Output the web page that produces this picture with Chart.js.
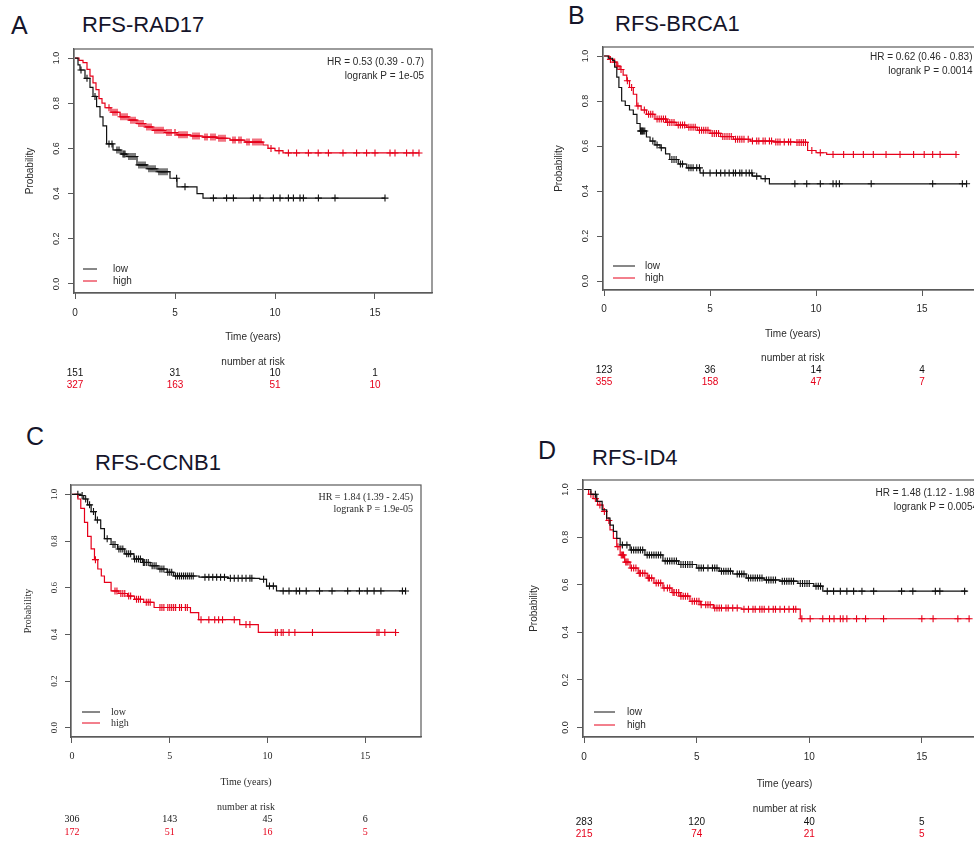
<!DOCTYPE html>
<html><head><meta charset="utf-8">
<script src="https://cdn.jsdelivr.net/npm/chart.js@4.4.1/dist/chart.umd.min.js"></script>
<style>
html,body{margin:0;padding:0;background:#fff;width:974px;height:846px;overflow:hidden;position:relative;}
canvas{position:absolute;}
.lbl{position:absolute;font-family:"Liberation Sans",Arial,sans-serif;color:#15152a;white-space:nowrap;line-height:1;}
</style></head><body>
<div class="lbl" style="left:11px;top:13px;font-size:25px">A</div>
<div class="lbl" style="left:82px;top:14px;font-size:22px">RFS-RAD17</div>
<div class="lbl" style="left:568px;top:3px;font-size:25px">B</div>
<div class="lbl" style="left:615px;top:13px;font-size:22px">RFS-BRCA1</div>
<div class="lbl" style="left:26px;top:424px;font-size:25px">C</div>
<div class="lbl" style="left:95px;top:452px;font-size:22px">RFS-CCNB1</div>
<div class="lbl" style="left:538px;top:438px;font-size:25px">D</div>
<div class="lbl" style="left:592px;top:447px;font-size:22px">RFS-ID4</div>
<canvas id="cA"></canvas><canvas id="cB"></canvas><canvas id="cC"></canvas><canvas id="cD"></canvas>
<script>
// ---------- shared ----------
const xTickValues = [0, 5, 10, 15];
const yTickValues = [0, 0.2, 0.4, 0.6, 0.8, 1.0];
const riskTimes = [0, 5, 10, 15];
const seriesNames = ['low', 'high'];

// ---------- Panel A : RFS-RAD17 ----------
const hrA = ['HR = 0.53 (0.39 - 0.7)', 'logrank P = 1e-05'];
const aLowT = [0, 0.15, 0.25, 0.5, 0.75, 0.9, 1.08, 1.25, 1.4, 1.58, 1.9, 2.3, 2.6, 3.1, 3.6, 4.1, 4.75, 5.1, 6.1, 6.4, 15.5];
const aLowS = [1, 0.97, 0.947, 0.91, 0.87, 0.83, 0.785, 0.74, 0.70, 0.62, 0.593, 0.575, 0.564, 0.527, 0.51, 0.497, 0.468, 0.43, 0.40, 0.38, 0.38];
const aHighT = [0, 0.2, 0.4, 0.6, 0.75, 0.9, 1.05, 1.2, 1.35, 1.5, 1.8, 2.25, 2.7, 3.1, 3.5, 3.9, 4.5, 5.1, 5.8, 6.4, 7.1, 7.75, 8.5, 9.4, 9.65, 10.0, 10.4, 17.2];
const aHighS = [1, 0.99, 0.98, 0.95, 0.92, 0.89, 0.86, 0.82, 0.80, 0.78, 0.76, 0.74, 0.725, 0.71, 0.695, 0.68, 0.67, 0.66, 0.655, 0.65, 0.645, 0.637, 0.628, 0.615, 0.60, 0.59, 0.58, 0.58];
const aLowCens = [[0.3,0.947],[0.6,0.91],[1.0,0.83],[1.7,0.62],[1.85,0.62],[2.1,0.593],[2.2,0.593],[2.4,0.575],[2.45,0.575],[2.5,0.575],[2.7,0.564],[2.8,0.564],[2.9,0.564],[3.0,0.564],[3.2,0.527],[3.3,0.527],[3.4,0.527],[3.5,0.527],[3.7,0.51],[3.8,0.51],[3.9,0.51],[4.0,0.51],[4.2,0.497],[4.3,0.497],[4.4,0.497],[4.5,0.497],[4.6,0.497],[5.08,0.468],[5.5,0.43],[6.92,0.38],[7.58,0.38],[7.92,0.38],[8.92,0.38],[9.25,0.38],[9.92,0.38],[10.25,0.38],[10.67,0.38],[10.92,0.38],[11.25,0.38],[11.42,0.38],[12.17,0.38],[13.0,0.38],[15.5,0.38]];
const aHighCens = [[1.7,0.78],[1.9,0.76],[2.0,0.76],[2.1,0.76],[2.3,0.74],[2.4,0.74],[2.5,0.74],[2.6,0.74],[2.8,0.725],[2.9,0.725],[3.0,0.725],[3.2,0.71],[3.3,0.71],[3.4,0.71],[3.6,0.695],[3.7,0.695],[3.8,0.695],[4.0,0.68],[4.1,0.68],[4.2,0.68],[4.3,0.68],[4.4,0.68],[4.6,0.67],[4.7,0.67],[4.8,0.67],[5.0,0.67],[5.2,0.66],[5.3,0.66],[5.4,0.66],[5.5,0.66],[5.6,0.66],[5.9,0.655],[6.0,0.655],[6.1,0.655],[6.2,0.655],[6.5,0.65],[6.6,0.65],[6.8,0.65],[6.9,0.65],[7.0,0.65],[7.2,0.645],[7.3,0.645],[7.4,0.645],[7.5,0.645],[7.9,0.637],[8.0,0.637],[8.2,0.637],[8.3,0.637],[8.6,0.628],[8.7,0.628],[8.9,0.628],[9.0,0.628],[9.1,0.628],[9.2,0.628],[9.3,0.628],[9.8,0.60],[10.2,0.59],[10.67,0.58],[11.08,0.58],[11.67,0.58],[12.16,0.58],[12.67,0.58],[13.4,0.58],[14.08,0.58],[14.58,0.58],[15.0,0.58],[15.75,0.58],[16.0,0.58],[16.58,0.58],[16.9,0.58],[17.2,0.58]];
const aRiskLow = [151, 31, 10, 1];
const aRiskHigh = [327, 163, 51, 10];

// ---------- Panel B : RFS-BRCA1 ----------
const hrB = ['HR = 0.62 (0.46 - 0.83)', 'logrank P = 0.0014'];
const bLowT = [0, 0.2, 0.4, 0.5, 0.6, 0.7, 0.83, 1.0, 1.2, 1.38, 1.55, 1.7, 2.0, 2.17, 2.4, 2.64, 2.9, 3.1, 3.5, 3.9, 4.53, 7.0, 7.4, 7.8, 17.1];
const bLowS = [1, 0.99, 0.98, 0.95, 0.906, 0.86, 0.80, 0.78, 0.76, 0.741, 0.70, 0.667, 0.64, 0.622, 0.605, 0.592, 0.565, 0.54, 0.52, 0.503, 0.48, 0.466, 0.455, 0.432, 0.432];
const bHighT = [0, 0.25, 0.43, 0.6, 0.75, 0.9, 1.07, 1.2, 1.38, 1.54, 1.75, 2.0, 2.4, 2.96, 3.4, 3.9, 4.4, 5.0, 5.5, 6.1, 6.9, 8.0, 9.0, 9.6, 10.0, 10.5, 16.6];
const bHighS = [1, 0.985, 0.973, 0.955, 0.94, 0.915, 0.89, 0.86, 0.83, 0.778, 0.76, 0.741, 0.72, 0.705, 0.693, 0.683, 0.67, 0.656, 0.642, 0.63, 0.622, 0.618, 0.616, 0.58, 0.57, 0.5625, 0.5625];
const bLowCens = [[1.72,0.667],[1.75,0.667],[1.78,0.667],[1.82,0.667],[1.85,0.667],[1.92,0.667],[2.3,0.622],[2.5,0.605],[2.7,0.592],[3.2,0.54],[3.3,0.54],[3.4,0.54],[3.6,0.52],[3.7,0.52],[4.0,0.503],[4.1,0.503],[4.2,0.503],[4.37,0.503],[4.5,0.503],[4.68,0.48],[5.0,0.48],[5.3,0.48],[5.5,0.48],[5.7,0.48],[5.9,0.48],[6.1,0.48],[6.2,0.48],[6.4,0.48],[6.5,0.48],[6.7,0.48],[6.85,0.48],[6.97,0.48],[7.2,0.466],[7.6,0.455],[9.0,0.432],[9.56,0.432],[10.2,0.432],[10.8,0.432],[10.95,0.432],[11.1,0.432],[12.6,0.432],[15.5,0.432],[16.9,0.432],[17.1,0.432]];
const bHighCens = [[0.3,0.985],[0.5,0.973],[0.65,0.955],[0.8,0.94],[1.1,0.89],[1.3,0.86],[1.6,0.778],[1.9,0.76],[2.1,0.741],[2.2,0.741],[2.3,0.741],[2.5,0.72],[2.6,0.72],[2.7,0.72],[2.8,0.72],[2.9,0.72],[3.0,0.705],[3.1,0.705],[3.2,0.705],[3.3,0.705],[3.5,0.693],[3.6,0.693],[3.7,0.693],[3.8,0.693],[4.0,0.683],[4.1,0.683],[4.2,0.683],[4.3,0.683],[4.5,0.67],[4.6,0.67],[4.7,0.67],[4.8,0.67],[4.9,0.67],[5.1,0.656],[5.2,0.656],[5.3,0.656],[5.4,0.656],[5.6,0.642],[5.7,0.642],[5.8,0.642],[5.9,0.642],[6.0,0.642],[6.2,0.63],[6.3,0.63],[6.4,0.63],[6.5,0.63],[6.6,0.63],[6.8,0.63],[7.0,0.622],[7.2,0.622],[7.3,0.622],[7.5,0.622],[7.6,0.622],[7.8,0.622],[7.9,0.622],[8.1,0.618],[8.2,0.618],[8.3,0.618],[8.5,0.618],[8.7,0.618],[8.8,0.618],[9.1,0.616],[9.2,0.616],[9.3,0.616],[9.4,0.616],[9.5,0.616],[9.8,0.58],[10.2,0.57],[10.8,0.5625],[11.3,0.5625],[11.76,0.5625],[12.23,0.5625],[12.7,0.5625],[13.3,0.5625],[13.96,0.5625],[14.6,0.5625],[15.1,0.5625],[15.5,0.5625],[15.85,0.5625],[16.6,0.5625]];
const bRiskLow = [123, 36, 14, 4];
const bRiskHigh = [355, 158, 47, 7];

// ---------- Panel C : RFS-CCNB1 ----------
const hrC = ['HR = 1.84 (1.39 - 2.45)', 'logrank P = 1.9e-05'];
const cLowT = [0, 0.46, 0.6, 0.8, 0.98, 1.2, 1.47, 1.66, 2.0, 2.33, 2.7, 3.17, 3.6, 4.0, 4.4, 4.87, 5.2, 6.5, 8.0, 9.6, 9.95, 10.46, 17.06];
const cLowS = [1, 0.995, 0.98, 0.955, 0.926, 0.89, 0.853, 0.81, 0.785, 0.766, 0.745, 0.723, 0.708, 0.694, 0.68, 0.666, 0.65, 0.645, 0.64, 0.636, 0.607, 0.586, 0.586];
const cHighT = [0, 0.3, 0.45, 0.64, 0.8, 0.98, 1.15, 1.32, 1.5, 1.66, 2.0, 2.4, 2.84, 3.2, 3.67, 4.2, 6.06, 6.48, 8.58, 9.53, 16.55];
const cHighS = [1, 0.98, 0.94, 0.88, 0.82, 0.766, 0.72, 0.68, 0.65, 0.623, 0.586, 0.575, 0.564, 0.55, 0.537, 0.515, 0.493, 0.463, 0.442, 0.408, 0.408];
const cLowCens = [[0.3,1],[0.52,0.995],[0.7,0.98],[0.9,0.955],[1.1,0.926],[1.3,0.89],[1.8,0.81],[2.1,0.785],[2.2,0.785],[2.4,0.766],[2.5,0.766],[2.6,0.766],[2.8,0.745],[2.9,0.745],[3.0,0.745],[3.2,0.723],[3.3,0.723],[3.4,0.723],[3.5,0.723],[3.65,0.708],[3.7,0.708],[3.8,0.708],[3.9,0.708],[4.1,0.694],[4.2,0.694],[4.3,0.694],[4.5,0.68],[4.6,0.68],[4.7,0.68],[4.9,0.666],[5.0,0.666],[5.1,0.666],[5.3,0.65],[5.4,0.65],[5.5,0.65],[5.6,0.65],[5.7,0.65],[5.8,0.65],[5.9,0.65],[6.0,0.65],[6.1,0.65],[6.2,0.65],[6.8,0.645],[7.0,0.645],[7.2,0.645],[7.4,0.645],[7.6,0.645],[7.8,0.645],[8.1,0.64],[8.3,0.64],[8.5,0.64],[8.7,0.64],[8.9,0.64],[9.1,0.64],[9.2,0.64],[9.8,0.636],[10.1,0.607],[10.3,0.607],[10.8,0.586],[11.1,0.586],[11.47,0.586],[11.64,0.586],[11.98,0.586],[12.66,0.586],[13.3,0.586],[14.1,0.586],[14.7,0.586],[15.1,0.586],[15.45,0.586],[15.8,0.586],[16.9,0.586],[17.06,0.586]];
const cHighCens = [[1.2,0.72],[2.2,0.586],[2.3,0.586],[2.5,0.575],[2.6,0.575],[2.7,0.575],[2.9,0.564],[3.0,0.564],[3.3,0.55],[3.4,0.55],[3.5,0.55],[3.8,0.537],[3.9,0.537],[4.0,0.537],[4.5,0.515],[4.6,0.515],[4.7,0.515],[4.9,0.515],[5.0,0.515],[5.1,0.515],[5.2,0.515],[5.3,0.515],[5.5,0.515],[5.6,0.515],[5.8,0.515],[5.9,0.515],[6.6,0.463],[7.0,0.463],[7.3,0.463],[7.5,0.463],[7.7,0.463],[8.3,0.463],[8.9,0.442],[9.1,0.442],[10.4,0.408],[10.5,0.408],[10.7,0.408],[10.8,0.408],[11.1,0.408],[11.4,0.408],[12.3,0.408],[15.6,0.408],[15.7,0.408],[16.0,0.408],[16.55,0.408]];
const cRiskLow = [306, 143, 45, 6];
const cRiskHigh = [172, 51, 16, 5];

// ---------- Panel D : RFS-ID4 ----------
const hrD = ['HR = 1.48 (1.12 - 1.98)', 'logrank P = 0.0054'];
const dLowT = [0, 0.3, 0.56, 0.8, 1.0, 1.15, 1.3, 1.45, 1.6, 2.04, 2.7, 3.5, 4.2, 5.0, 6.0, 6.6, 7.2, 8.0, 8.7, 9.5, 10.2, 10.6, 17.0];
const dLowS = [1, 0.98, 0.95, 0.915, 0.88, 0.85, 0.824, 0.795, 0.767, 0.746, 0.725, 0.70, 0.685, 0.67, 0.657, 0.645, 0.628, 0.62, 0.615, 0.605, 0.594, 0.573, 0.573];
const dHighT = [0, 0.2, 0.4, 0.6, 0.84, 1.0, 1.15, 1.3, 1.45, 1.6, 1.8, 2.04, 2.4, 2.8, 3.1, 3.5, 3.9, 4.27, 4.7, 5.16, 5.74, 7.0, 9.6, 17.15];
const dHighS = [1, 0.98, 0.962, 0.935, 0.908, 0.87, 0.83, 0.795, 0.76, 0.725, 0.695, 0.67, 0.648, 0.628, 0.607, 0.586, 0.567, 0.552, 0.53, 0.516, 0.502, 0.497, 0.457, 0.457];
const dLowCens = [[0.5,0.98],[1.7,0.767],[1.9,0.767],[2.1,0.746],[2.2,0.746],[2.3,0.746],[2.4,0.746],[2.5,0.746],[2.6,0.746],[2.8,0.725],[2.9,0.725],[3.0,0.725],[3.1,0.725],[3.2,0.725],[3.3,0.725],[3.4,0.725],[3.6,0.70],[3.7,0.70],[3.8,0.70],[3.9,0.70],[4.0,0.70],[4.1,0.70],[4.3,0.685],[4.4,0.685],[4.5,0.685],[4.6,0.685],[4.7,0.685],[4.8,0.685],[5.1,0.67],[5.2,0.67],[5.3,0.67],[5.5,0.67],[5.7,0.67],[5.8,0.67],[5.9,0.67],[6.1,0.657],[6.2,0.657],[6.3,0.657],[6.4,0.657],[6.5,0.657],[6.8,0.645],[6.9,0.645],[7.0,0.645],[7.1,0.645],[7.3,0.628],[7.4,0.628],[7.5,0.628],[7.6,0.628],[7.7,0.628],[7.8,0.628],[7.9,0.628],[8.1,0.62],[8.2,0.62],[8.3,0.62],[8.4,0.62],[8.5,0.62],[8.8,0.615],[8.9,0.615],[9.0,0.615],[9.1,0.615],[9.2,0.615],[9.3,0.615],[9.6,0.605],[9.7,0.605],[9.8,0.605],[9.9,0.605],[10.0,0.605],[10.3,0.594],[10.4,0.594],[10.5,0.594],[10.8,0.573],[11.08,0.573],[11.38,0.573],[11.67,0.573],[11.97,0.573],[12.34,0.573],[12.86,0.573],[14.1,0.573],[14.6,0.573],[15.6,0.573],[15.8,0.573],[16.9,0.573]];
const dHighCens = [[0.3,0.98],[0.5,0.962],[0.7,0.935],[0.9,0.908],[1.1,0.87],[1.5,0.76],[1.65,0.725],[1.7,0.725],[1.75,0.725],[1.85,0.695],[1.9,0.695],[1.95,0.695],[2.1,0.67],[2.2,0.67],[2.3,0.67],[2.45,0.648],[2.5,0.648],[2.6,0.648],[2.7,0.648],[2.85,0.628],[2.9,0.628],[3.0,0.628],[3.2,0.607],[3.3,0.607],[3.4,0.607],[3.55,0.586],[3.7,0.586],[3.8,0.586],[3.95,0.567],[4.0,0.567],[4.1,0.567],[4.2,0.567],[4.3,0.552],[4.4,0.552],[4.5,0.552],[4.6,0.552],[4.8,0.53],[4.9,0.53],[5.0,0.53],[5.1,0.53],[5.2,0.516],[5.4,0.516],[5.5,0.516],[5.6,0.516],[5.8,0.502],[5.9,0.502],[6.0,0.502],[6.1,0.502],[6.3,0.502],[6.4,0.502],[6.6,0.502],[6.8,0.502],[7.1,0.497],[7.3,0.497],[7.5,0.497],[7.6,0.497],[7.8,0.497],[7.9,0.497],[8.0,0.497],[8.2,0.497],[8.4,0.497],[8.5,0.497],[8.7,0.497],[8.9,0.497],[9.1,0.497],[9.3,0.497],[9.4,0.497],[9.67,0.457],[10.04,0.457],[10.6,0.457],[10.9,0.457],[11.1,0.457],[11.38,0.457],[11.5,0.457],[11.67,0.457],[12.1,0.457],[12.5,0.457],[13.3,0.457],[15.0,0.457],[15.5,0.457],[16.6,0.457],[17.1,0.457]];
const dRiskLow = [283, 120, 40, 5];
const dRiskHigh = [215, 74, 21, 5];

// ---------- drawing ----------
const RED = '#e6001a', BLACK = '#111111', AXIS = '#5a5a5a', TXT = '#2a2a2a';

function pts(ts, ss) { return ts.map((t, i) => ({ x: t, y: ss[i] })); }
function cens(arr) { return arr.map(p => ({ x: p[0], y: p[1] })); }

function buildPanel(id, g, d) {
  const cv = document.getElementById(id);
  cv.width = g.w; cv.height = g.h;
  cv.style.left = g.left + 'px'; cv.style.top = g.top + 'px';
  cv.style.width = g.w + 'px'; cv.style.height = g.h + 'px';
  const ytx = g.yTitleX - 6;
  const xbot = g.xTitleY + 6;
  const fam = g.family;
  const kmPlugin = {
    id: 'km' + id,
    afterDraw(chart) {
      const { ctx, chartArea: a, scales: { x } } = chart;
      ctx.save();
      ctx.strokeStyle = AXIS; ctx.lineWidth = 1.2;
      ctx.strokeRect(a.left, a.top, a.right - a.left, a.bottom - a.top);
      ctx.font = g.hrSize + 'px ' + fam;
      ctx.fillStyle = TXT; ctx.textAlign = 'right'; ctx.textBaseline = 'middle';
      ctx.fillText(d.hr[0], a.right - g.hrDx, a.top + g.hrDy[0]);
      ctx.fillText(d.hr[1], a.right - g.hrDx, a.top + g.hrDy[1]);
      ctx.font = '10px ' + fam; ctx.textAlign = 'left';
      [BLACK, RED].forEach((c, i) => {
        const yy = a.bottom - g.lgDy[i];
        ctx.strokeStyle = c; ctx.lineWidth = 1;
        ctx.beginPath(); ctx.moveTo(a.left + g.lgX0, yy); ctx.lineTo(a.left + g.lgX1, yy); ctx.stroke();
        ctx.fillStyle = TXT; ctx.fillText(seriesNames[i], a.left + g.lgTx, yy);
      });
      ctx.textAlign = 'center';
      ctx.fillStyle = TXT;
      ctx.fillText('number at risk', (a.left + a.right) / 2, a.bottom + g.riskDy[0]);
      riskTimes.forEach((t, i) => {
        const px = x.getPixelForValue(t);
        ctx.fillStyle = BLACK; ctx.fillText(String(d.riskLow[i]), px, a.bottom + g.riskDy[1]);
        ctx.fillStyle = RED; ctx.fillText(String(d.riskHigh[i]), px, a.bottom + g.riskDy[2]);
      });
      ctx.restore();
    }
  };
  return new Chart(cv, {
    type: 'scatter',
    data: {
      datasets: [
        { label: 'low', data: pts(d.lowT, d.lowS), showLine: true, stepped: true, borderColor: BLACK, borderWidth: 1.2, pointRadius: 0 },
        { label: 'high', data: pts(d.highT, d.highS), showLine: true, stepped: true, borderColor: RED, borderWidth: 1.2, pointRadius: 0 },
        { label: 'low censored', data: cens(d.lowCens), showLine: false, pointStyle: 'cross', pointRadius: 3.5, borderColor: BLACK, borderWidth: 1.1 },
        { label: 'high censored', data: cens(d.highCens), showLine: false, pointStyle: 'cross', pointRadius: 3.5, borderColor: RED, borderWidth: 1.1 }
      ]
    },
    options: {
      responsive: false, animation: false, devicePixelRatio: 1,
      layout: { padding: { left: ytx, top: g.T, right: g.w - g.R, bottom: g.h - xbot } },
      plugins: { legend: { display: false }, tooltip: { enabled: false } },
      scales: {
        x: {
          type: 'linear', min: -0.05, max: 17.85,
          afterBuildTicks: s => { s.ticks = xTickValues.map(v => ({ value: v })); },
          afterFit: s => { s.height = xbot - g.B; },
          ticks: { autoSkip: false, maxRotation: 0, padding: g.xTickPad, color: TXT, font: { size: 10, family: fam }, callback: v => String(v) },
          grid: { drawOnChartArea: false, drawTicks: true, tickLength: 6, color: AXIS, lineWidth: 1 },
          border: { display: true, color: AXIS, width: 1.2 },
          title: { display: true, text: 'Time (years)', color: TXT, font: { size: 10, family: fam }, padding: 0 }
        },
        y: {
          type: 'linear', min: -0.04, max: 1.04,
          afterBuildTicks: s => { s.ticks = yTickValues.map(v => ({ value: v })); },
          afterFit: s => { s.width = g.L - ytx; },
          ticks: { autoSkip: false, minRotation: 90, maxRotation: 90, crossAlign: 'center', padding: g.yTickPad, color: TXT, font: { size: 9, family: fam }, callback: v => Number(v).toFixed(1) },
          grid: { drawOnChartArea: false, drawTicks: true, tickLength: 6, color: AXIS, lineWidth: 1 },
          border: { display: true, color: AXIS, width: 1.2 },
          title: { display: true, text: 'Probability', color: TXT, font: { size: 10, family: fam }, padding: 0 }
        }
      }
    },
    plugins: [kmPlugin]
  });
}

const SANS = '"Liberation Sans", Arial, sans-serif';
const SERIF = '"Liberation Serif", "Times New Roman", serif';

buildPanel('cA', { left: 0, top: 0, w: 487, h: 400, L: 74, T: 49, R: 432, B: 293, yTitleX: 30, xTitleY: 337, family: SANS, hrSize: 10, hrDx: 8, hrDy: [13, 27], lgX0: 9, lgX1: 23, lgTx: 39, lgDy: [24, 12], riskDy: [69, 80, 92], xTickPad: 8, yTickPad: 5 },
  { hr: hrA, lowT: aLowT, lowS: aLowS, highT: aHighT, highS: aHighS, lowCens: aLowCens, highCens: aHighCens, riskLow: aRiskLow, riskHigh: aRiskHigh });
buildPanel('cB', { left: 487, top: 0, w: 510, h: 400, L: 116, T: 47, R: 495.5, B: 290, yTitleX: 72, xTitleY: 334, family: SANS, hrSize: 10, hrDx: 10, hrDy: [10, 24], lgX0: 10, lgX1: 32, lgTx: 42, lgDy: [24, 12], riskDy: [68, 80, 92], xTickPad: 7, yTickPad: 5 },
  { hr: hrB, lowT: bLowT, lowS: bLowS, highT: bHighT, highS: bHighS, lowCens: bLowCens, highCens: bHighCens, riskLow: bRiskLow, riskHigh: bRiskHigh });
buildPanel('cC', { left: 0, top: 420, w: 487, h: 426, L: 71, T: 65, R: 421, B: 317, yTitleX: 28, xTitleY: 362, family: SERIF, hrSize: 10, hrDx: 8, hrDy: [12, 24], lgX0: 11, lgX1: 29, lgTx: 40, lgDy: [25, 14], riskDy: [70, 82, 95], xTickPad: 7, yTickPad: 5 },
  { hr: hrC, lowT: cLowT, lowS: cLowS, highT: cHighT, highS: cHighS, lowCens: cLowCens, highCens: cHighCens, riskLow: cRiskLow, riskHigh: cRiskHigh });
buildPanel('cD', { left: 487, top: 420, w: 510, h: 426, L: 96, T: 60, R: 499, B: 317, yTitleX: 47, xTitleY: 364, family: SANS, hrSize: 10, hrDx: 8, hrDy: [13, 27], lgX0: 11, lgX1: 32, lgTx: 44, lgDy: [25, 12], riskDy: [72, 85, 97], xTickPad: 8, yTickPad: 5 },
  { hr: hrD, lowT: dLowT, lowS: dLowS, highT: dHighT, highS: dHighS, lowCens: dLowCens, highCens: dHighCens, riskLow: dRiskLow, riskHigh: dRiskHigh });
</script>
</body></html>
